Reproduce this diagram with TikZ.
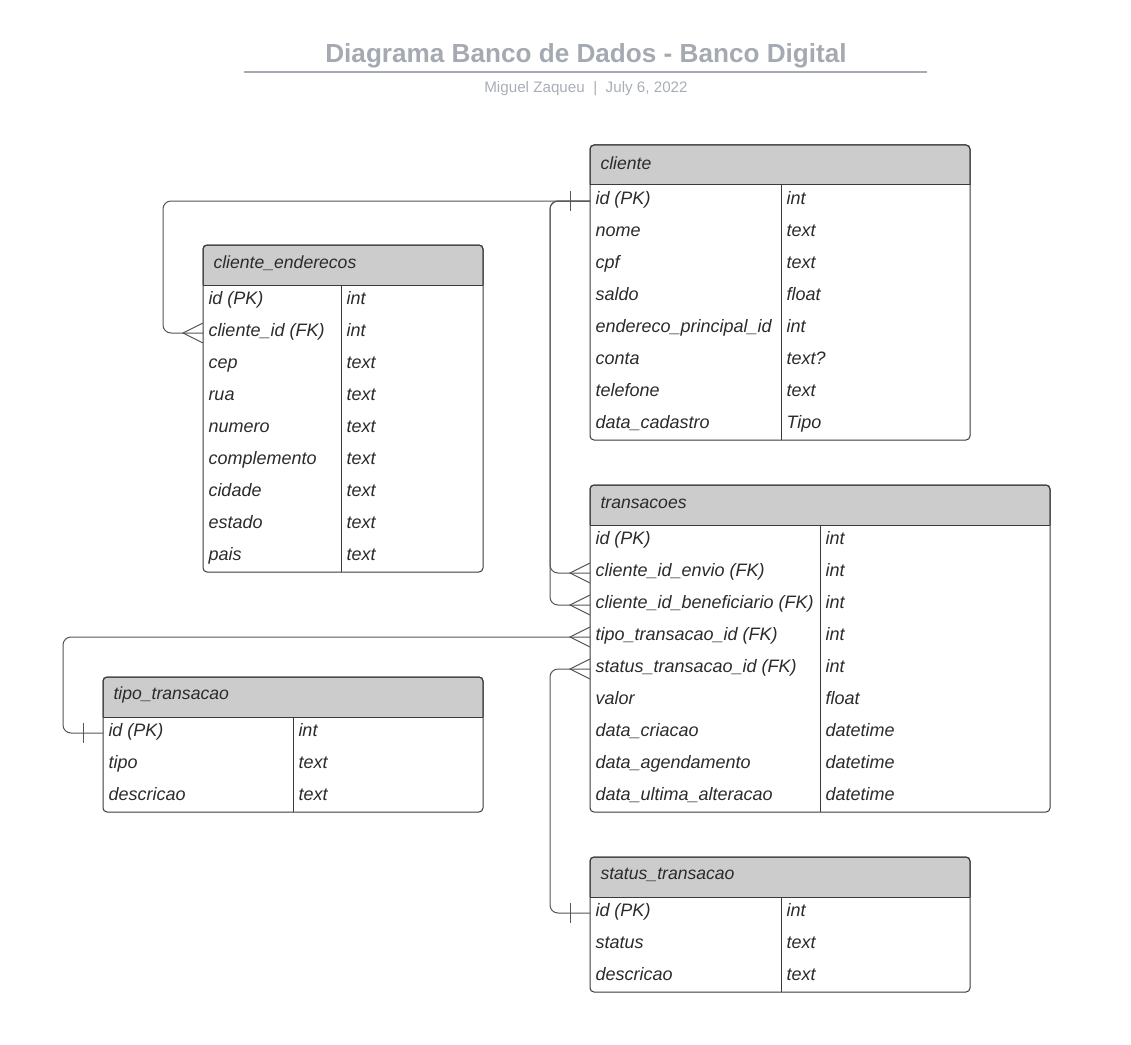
\documentclass[tikz,border=0pt]{standalone}
\usepackage{fontspec}
\setmainfont{Liberation Sans}
\usetikzlibrary{calc}
\definecolor{headgray}{HTML}{CCCCCC}
\definecolor{titlegray}{HTML}{A4A9B2}
\definecolor{subgray}{HTML}{A9AEB6}
\definecolor{edgegray}{HTML}{3A3A3A}
\definecolor{relgray}{HTML}{555555}
\definecolor{textdark}{HTML}{2B2B2B}

\begin{document}
\begin{tikzpicture}
  [x = 0.75pt, y = -0.75pt, line width = 0.75pt,
   tab/.style = {draw = edgegray, rounded corners = 3pt},
   head/.style = {anchor = west, inner xsep = 7.5pt, text = textdark,
                  font = \fontsize{13.2}{15}\selectfont\itshape},
   row/.style = {anchor = west, inner xsep = 3.75pt, text = textdark,
                 text height = 0.72em, text depth = 0.21em,
                 font = \fontsize{13.5}{16}\selectfont\itshape},
   rel/.style = {draw = relgray, rounded corners = 6pt},
   pics/one/.style = {code = {\draw[relgray] (-20,-10) -- (-20,10);}},
   pics/many/.style = {code = {\draw[relgray] (0,-10) -- (-20,0) -- (0,10);}}]
  \useasboundingbox (0,0) rectangle (1131,1045);

  % title
  \node (title) at (586,56) {\fontsize{19.6}{22}\selectfont\bfseries\color{titlegray}Diagrama Banco de Dados - Banco Digital};
  \draw[titlegray, line width = 1.5pt] (244,72) -- (927,72);
  \node (sub) at (586,89) {\fontsize{11.4}{13}\selectfont\color{subgray}Miguel Zaqueu \ | \ July 6, 2022};

  % cliente
  \draw[tab, fill = headgray] (590,185) -- (590,145) -- (970,145) -- (970,185);
  \draw[tab] (590,145) rectangle (970,440);
  \draw[edgegray] (590,185) -- (970,185) (781,185) -- (781,440);
  \node[head] (cli) at (590,163) {cliente};
  \foreach \n/\f/\t [count = \k from 0] in {id/id (PK)/int, nome/nome/text, cpf/cpf/text,
      saldo/saldo/float, endp/endereco\_principal\_id/int, conta/conta/text?,
      tel/telefone/text, data/data\_cadastro/Tipo}
  {
    \node[row] (cli-\n) at (590,{201+32*\k}) {\f};
    \node[row] (cli-\n-t) at (781,{201+32*\k}) {\t};
  }

  % cliente_enderecos
  \draw[tab, fill = headgray] (203,285) -- (203,245) -- (483,245) -- (483,285);
  \draw[tab] (203,245) rectangle (483,572);
  \draw[edgegray] (203,285) -- (483,285) (341,285) -- (341,572);
  \node[head] (end) at (203,263) {cliente\_enderecos};
  \foreach \n/\f/\t [count = \k from 0] in {id/id (PK)/int, cli/cliente\_id (FK)/int,
      cep/cep/text, rua/rua/text, num/numero/text, comp/complemento/text,
      cid/cidade/text, est/estado/text, pais/pais/text}
  {
    \node[row] (end-\n) at (203,{301+32*\k}) {\f};
    \node[row] (end-\n-t) at (341,{301+32*\k}) {\t};
  }

  % transacoes
  \draw[tab, fill = headgray] (590,525) -- (590,485) -- (1050,485) -- (1050,525);
  \draw[tab] (590,485) rectangle (1050,812);
  \draw[edgegray] (590,525) -- (1050,525) (820,525) -- (820,812);
  \node[head] (tra) at (590,503) {transacoes};
  \foreach \n/\f/\t [count = \k from 0] in {id/id (PK)/int,
      envio/cliente\_id\_envio (FK)/int, benef/cliente\_id\_beneficiario (FK)/int,
      tipo/tipo\_transacao\_id (FK)/int, status/status\_transacao\_id (FK)/int,
      valor/valor/float, criacao/data\_criacao/datetime,
      agend/data\_agendamento/datetime, alt/data\_ultima\_alteracao/datetime}
  {
    \node[row] (tra-\n) at (590,{541+32*\k}) {\f};
    \node[row] (tra-\n-t) at (820,{541+32*\k}) {\t};
  }

  % tipo_transacao
  \draw[tab, fill = headgray] (103,717) -- (103,677) -- (483,677) -- (483,717);
  \draw[tab] (103,677) rectangle (483,812);
  \draw[edgegray] (103,717) -- (483,717) (293,717) -- (293,812);
  \node[head] (tip) at (103,695) {tipo\_transacao};
  \foreach \n/\f/\t [count = \k from 0] in {id/id (PK)/int, tipo/tipo/text,
      desc/descricao/text}
  {
    \node[row] (tip-\n) at (103,{733+32*\k}) {\f};
    \node[row] (tip-\n-t) at (293,{733+32*\k}) {\t};
  }

  % status_transacao
  \draw[tab, fill = headgray] (590,897) -- (590,857) -- (970,857) -- (970,897);
  \draw[tab] (590,857) rectangle (970,992);
  \draw[edgegray] (590,897) -- (970,897) (781,897) -- (781,992);
  \node[head] (sta) at (590,875) {status\_transacao};
  \foreach \n/\f/\t [count = \k from 0] in {id/id (PK)/int, status/status/text,
      desc/descricao/text}
  {
    \node[row] (sta-\n) at (590,{913+32*\k}) {\f};
    \node[row] (sta-\n-t) at (781,{913+32*\k}) {\t};
  }

  % relations
  \draw[rel] (end-cli.west) -- ++(-40,0) |- (cli-id.west);
  \draw[rel] (tra-envio.west) -- ++(-40,0) |- (cli-id.west);
  \draw[rel] (tra-benef.west) -- ++(-40,0) |- (cli-id.west);
  \draw[rel] (tip-id.west) -- ++(-40,0) |- (tra-tipo.west);
  \draw[rel] (sta-id.west) -- ++(-40,0) |- (tra-status.west);
  \pic at (cli-id.west) {one};
  \pic at (tip-id.west) {one};
  \pic at (sta-id.west) {one};
  \pic at (end-cli.west) {many};
  \pic at (tra-envio.west) {many};
  \pic at (tra-benef.west) {many};
  \pic at (tra-tipo.west) {many};
  \pic at (tra-status.west) {many};
\end{tikzpicture}
\end{document}
